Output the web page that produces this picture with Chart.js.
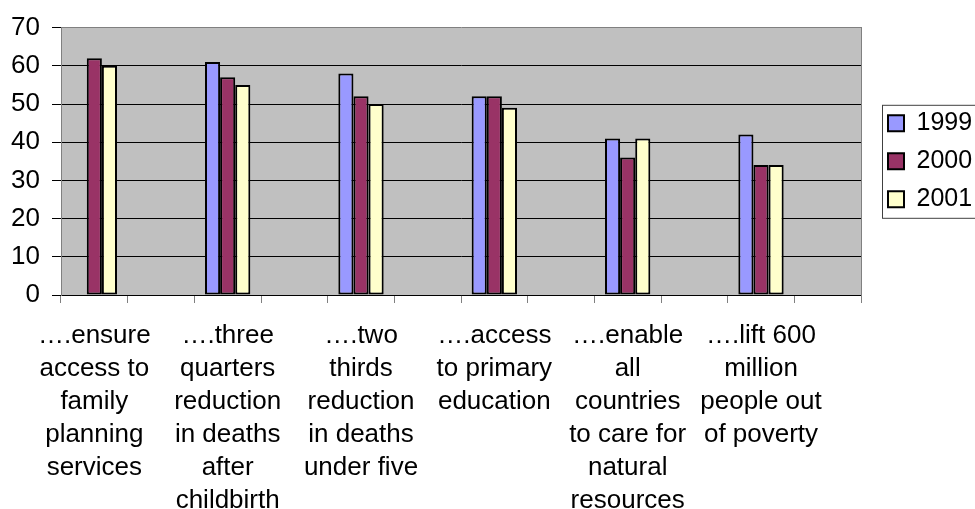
<!DOCTYPE html>
<html lang="en">
<head>
  <meta charset="UTF-8" />
  <title>Progress towards the goals</title>
  <script src="https://cdn.jsdelivr.net/npm/chart.js"></script>
  <style>
    html, body {
      margin: 0;
      padding: 0;
      background: #fff;
    }
  </style>
</head>
<body>

<canvas id="chart" width="975" height="509"></canvas>

<script>
  // goals (x labels), one line per array item
  const goals = [
    ['….ensure', 'access to', 'family', 'planning', 'services'],
    ['….three', 'quarters', 'reduction', 'in deaths', 'after', 'childbirth'],
    ['….two', 'thirds', 'reduction', 'in deaths', 'under five'],
    ['….access', 'to primary', 'education'],
    ['….enable', 'all', 'countries', 'to care for', 'natural', 'resources'],
    ['….lift 600', 'million', 'people out', 'of poverty']
  ];

  const years = ['1999', '2000', '2001'];
  const values1999 = [null, 61, 58, 52, 41, 42];
  const values2000 = [62, 57, 52, 52, 36, 34];
  const values2001 = [60, 55, 50, 49, 41, 34];

  const yMin = 0;
  const yMax = 70;
  const yStep = 10;

  // every goal is followed by an empty category slot, like in the sheet
  const labels = goals.flatMap(g => [g, '']);
  const spread = arr => arr.flatMap(v => [v, null]);

  Chart.defaults.font.family = '"Liberation Sans", Arial, sans-serif';
  Chart.defaults.color = '#000';

  const plotFrame = {
    id: 'plotFrame',
    beforeDraw(chart) {
      const { ctx, chartArea: a } = chart;
      ctx.save();
      ctx.fillStyle = '#c0c0c0';
      ctx.fillRect(a.left, a.top, a.right - a.left, a.bottom - a.top);
      ctx.restore();
    },
    afterDraw(chart) {
      const boxes = chart.legend && chart.legend.legendHitBoxes;
      if (!boxes || !boxes.length) return;
      const first = boxes[0];
      const last = boxes[boxes.length - 1];
      const ctx = chart.ctx;
      ctx.save();
      ctx.strokeStyle = '#404040';
      ctx.lineWidth = 1;
      ctx.strokeRect(first.left - 5.5, first.top - 5.5, chart.width,
        last.top + last.height - first.top + 12);
      ctx.restore();
    }
  };

  const colors = ['#9999ff', '#993366', '#ffffcc'];
  const series = [values1999, values2000, values2001];

  new Chart(document.getElementById('chart'), {
    type: 'bar',
    data: {
      labels: labels,
      datasets: years.map((y, i) => ({
        label: y,
        data: spread(series[i]),
        backgroundColor: colors[i],
        borderColor: '#000',
        borderWidth: 2,
        borderSkipped: false,
        categoryPercentage: 0.68,
        barPercentage: 1,
        yAxisID: 'y'
      }))
    },
    options: {
      responsive: false,
      animation: false,
      layout: { padding: { top: 25, left: 0, right: 0, bottom: 0 } },
      plugins: {
        legend: {
          position: 'right',
          align: 'center',
          fullSize: false,
          maxWidth: 100,
          labels: {
            boxWidth: 16,
            boxHeight: 16,
            padding: 13,
            color: '#000',
            font: { size: 25 }
          }
        },
        tooltip: { enabled: false }
      },
      scales: {
        x: {
          grid: { drawOnChartArea: false, color: '#808080', tickLength: 8 },
          border: { color: '#000' },
          ticks: {
            autoSkip: false,
            maxRotation: 0,
            minRotation: 0,
            padding: 16,
            font: { size: 26, lineHeight: 1.27 }
          },
          afterFit: s => { s.height = 214; }
        },
        y: {
          min: yMin,
          max: yMax,
          ticks: { stepSize: yStep, padding: 12, font: { size: 26 } },
          grid: {
            color: c => (c.tick && c.tick.value === yMax ? '#808080' : '#000'),
            tickColor: '#000',
            tickLength: 9
          },
          border: { color: '#808080' },
          afterFit: s => { s.width = 61; }
        },
        y2: {
          position: 'right',
          display: true,
          grid: { display: false },
          ticks: { display: false },
          border: { color: '#808080' },
          afterFit: s => { s.width = 14; }
        }
      }
    },
    plugins: [plotFrame]
  });
</script>

</body>
</html>
